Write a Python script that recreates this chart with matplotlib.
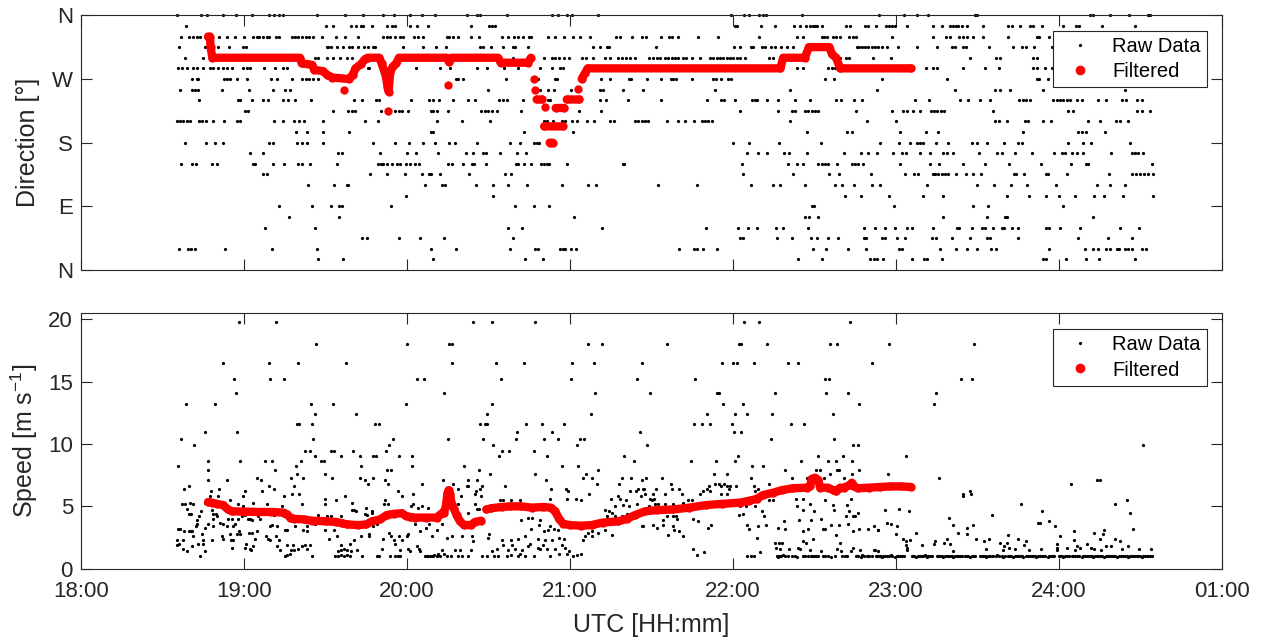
import numpy as np
import matplotlib
matplotlib.use("Agg")
import matplotlib.pyplot as plt
from matplotlib.lines import Line2D

OUT_PNG = "out.png"

# times are minutes after 18:00 UTC
# ---------------- raw direction, one list per 15 deg bin ----------------
raw_dir_360 = [35.1, 44.1, 46.4, 52.1, 56.9, 62.7, 69.3, 71.0, 73.0, 74.2, 86.7, 97.1, 103.9, 111.0, 115.2,
               121.1, 125.5, 130.1, 141.9, 145.8, 146.8, 156.9, 173.2, 175.7, 178.8, 180.7, 190.2, 239.2, 244.2,
               246.0, 249.7, 251.2, 252.2, 265.3, 293.9, 303.1, 307.7, 312.0, 329.2, 329.8, 371.5, 372.7, 378.9,
               386.0, 393.0, 393.6]
raw_dir_345 = [38.6, 90.1, 92.6, 99.2, 101.2, 102.9, 103.9, 106.9, 112.7, 114.4, 115.7, 121.1, 123.5, 127.7,
               143.5, 150.3, 151.3, 152.2, 240.8, 241.4, 250.3, 255.5, 262.5, 264.7, 266.9, 268.4, 269.4, 270.2,
               271.1, 273.0, 281.6, 283.1, 288.6, 289.9, 292.7, 296.4, 297.6, 298.5, 299.7, 304.2, 313.8, 316.9,
               320.0, 320.9, 322.2, 323.0, 324.2, 326.1, 332.2, 341.4, 342.7, 345.7, 349.4, 350.6, 353.7, 361.7,
               366.4, 367.6, 375.8, 388.1]
raw_dir_330 = [36.7, 39.8, 41.3, 42.5, 43.7, 50.8, 53.5, 56.6, 59.9, 63.4, 64.6, 65.6, 67.0, 68.3, 69.3, 71.7,
               73.0, 77.5, 78.7, 79.9, 81.2, 82.8, 84.0, 85.5, 88.5, 93.8, 97.1, 102.0, 111.0, 112.5, 113.7, 115.5,
               117.4, 118.4, 122.5, 124.1, 125.7, 134.6, 135.5, 136.8, 138.9, 143.4, 146.6, 154.9, 157.3, 159.4,
               161.0, 162.6, 165.0, 165.6, 171.9, 174.5, 177.8, 181.2, 183.7, 187.4, 196.9, 198.4, 202.7, 206.4,
               208.0, 213.4, 216.6, 217.4, 219.9, 227.3, 234.6, 249.7, 263.5, 265.9, 272.7, 273.5, 274.5, 277.0,
               278.0, 279.4, 282.9, 284.1, 285.3, 298.5, 313.8, 318.5, 320.0, 323.4, 324.9, 326.1, 328.3, 332.0,
               341.4, 351.9, 352.9, 356.5]
raw_dir_315 = [36.0, 45.6, 50.5, 54.5, 59.4, 60.7, 90.4, 91.0, 91.8, 94.1, 96.5, 98.7, 99.6, 102.0, 104.1,
               105.7, 107.3, 108.2, 118.4, 126.0, 130.6, 134.3, 146.8, 147.8, 150.8, 155.4, 159.1, 159.7, 164.6,
               188.3, 191.0, 193.7, 194.5, 211.7, 240.4, 242.8, 246.5, 247.5, 250.6, 251.8, 253.9, 255.5, 257.9,
               259.8, 262.0, 285.6, 286.5, 287.5, 288.6, 289.9, 291.1, 292.3, 293.5, 294.8, 296.9, 300.9, 307.9,
               315.3, 320.6, 321.8, 324.9, 325.8, 334.4, 343.0, 346.3, 347.9, 351.0, 357.4]
raw_dir_300 = [38.2, 44.9, 86.1, 87.3, 90.4, 92.8, 95.3, 98.0, 99.6, 159.1, 170.4, 173.2, 174.5, 176.1, 177.8,
               179.5, 184.4, 185.9, 188.3, 192.9, 194.7, 197.8, 199.0, 200.6, 202.1, 203.9, 209.2, 210.7, 211.9,
               213.1, 215.0, 216.2, 217.4, 218.7, 219.9, 221.7, 222.9, 224.8, 227.9, 231.5, 232.8, 234.0, 235.2,
               236.5, 237.7, 238.9, 240.1, 241.6, 242.8, 244.4, 253.4, 254.6, 279.4, 281.6, 282.9, 291.7, 298.1,
               327.3, 336.9, 338.4, 350.4, 352.1]
raw_dir_285 = [35.5, 37.0, 38.8, 41.0, 42.5, 44.7, 47.4, 48.6, 50.5, 52.1, 53.5, 55.4, 59.7, 60.9, 62.1, 67.4,
               71.3, 74.2, 75.6, 105.7, 106.1, 123.3, 132.1, 135.8, 145.6, 149.5, 155.7, 161.0, 168.9, 173.2,
               176.3, 177.3, 263.5, 265.9, 275.1, 276.4, 277.6, 311.1, 313.8, 315.0, 324.6, 332.8, 338.1, 350.6,
               352.1, 354.9, 357.4]
raw_dir_270 = [40.7, 42.5, 43.1, 52.7, 53.5, 54.8, 57.2, 60.9, 69.7, 72.2, 77.5, 81.2, 82.8, 84.0, 85.5, 87.3,
               138.0, 138.9, 140.5, 156.4, 168.3, 174.5, 175.3, 191.6, 194.8, 201.8, 202.3, 208.5, 213.7, 217.1,
               217.8, 219.0, 224.9, 232.8, 233.8, 235.5, 238.3, 239.2, 273.9, 277.2, 294.8, 318.7, 351.9, 352.9,
               356.2]
raw_dir_255 = [36.4, 40.7, 41.9, 43.1, 51.7, 61.9, 70.7, 75.0, 76.9, 149.9, 168.9, 172.0, 174.1, 180.2, 191.0,
               192.3, 199.4, 206.8, 233.4, 261.0, 293.2, 321.8, 336.5, 338.4, 342.0, 354.1, 384.4]
raw_dir_240 = [43.5, 57.6, 58.5, 63.0, 67.0, 68.9, 74.4, 76.3, 78.7, 84.6, 100.4, 103.3, 108.5, 109.6, 121.4,
               128.2, 129.4, 131.9, 136.8, 142.5, 145.0, 154.0, 155.4, 156.9, 162.8, 172.0, 172.6, 191.0, 193.2,
               201.5, 213.7, 230.3, 235.8, 236.7, 240.8, 246.9, 248.1, 249.0, 252.4, 256.5, 262.9, 268.4, 278.0,
               279.7, 284.6, 287.4, 307.1, 312.3, 323.6, 326.7, 331.0, 334.7, 345.5, 346.7, 347.9, 349.4, 358.0,
               359.2, 360.5, 361.7, 362.9, 364.1, 366.6, 368.4, 374.6, 377.4, 383.2, 384.8, 389.0, 390.5]
raw_dir_225 = [60.3, 61.5, 92.6, 98.4, 99.6, 100.8, 110.3, 115.5, 117.1, 118.0, 120.4, 128.7, 129.6, 130.9,
               135.2, 147.4, 148.7, 149.9, 151.1, 153.2, 161.8, 183.4, 191.6, 242.6, 256.7, 261.6, 262.9, 266.5,
               267.8, 269.0, 270.2, 271.5, 285.3, 298.5, 302.8, 304.0, 306.2, 308.9, 312.8, 314.1, 315.3, 316.5,
               317.7, 335.9, 363.5, 365.1, 388.7, 390.5, 393.6]
raw_dir_210 = [35.1, 36.4, 37.6, 38.8, 40.0, 43.4, 44.6, 45.8, 48.4, 52.6, 57.2, 58.5, 71.0, 74.4, 78.3, 80.3,
               82.0, 89.1, 104.5, 109.4, 131.1, 140.1, 150.5, 170.4, 171.4, 173.8, 176.9, 178.1, 180.6, 182.4,
               186.1, 188.8, 194.7, 196.2, 203.9, 205.2, 206.4, 207.6, 208.8, 215.6, 219.9, 222.3, 225.7, 228.5,
               229.7, 230.9, 232.2, 261.0, 289.3, 300.1, 336.5, 338.1, 340.8, 347.6, 348.8, 354.3, 357.0, 370.9,
               375.2, 381.1, 382.6, 385.6]
raw_dir_195 = [79.1, 83.0, 88.9, 98.7, 128.7, 129.6, 163.0, 181.2, 267.4, 281.9, 283.7, 301.5, 311.1, 315.7,
               346.7, 367.2, 368.4, 370.0, 377.0]
raw_dir_180 = [38.2, 45.9, 49.2, 52.1, 69.3, 70.5, 79.3, 81.2, 83.0, 89.1, 107.6, 115.5, 120.8, 126.0, 130.3,
               135.5, 137.6, 145.8, 157.9, 161.6, 166.7, 167.7, 168.7, 239.9, 246.0, 257.1, 272.3, 294.2, 301.0,
               305.2, 307.9, 308.9, 310.1, 314.8, 319.3, 327.9, 329.8, 333.5, 339.8, 345.1, 346.3, 363.5, 368.8,
               371.8, 386.2]
raw_dir_165 = [62.1, 66.8, 94.7, 95.9, 110.0, 120.1, 123.3, 131.5, 141.7, 144.1, 147.8, 149.0, 154.2, 160.6,
               163.8, 245.3, 249.3, 252.7, 258.8, 260.8, 267.4, 280.9, 287.2, 289.9, 292.9, 299.1, 302.1, 303.7,
               308.9, 312.6, 317.2, 318.7, 320.9, 330.7, 337.1, 339.0, 343.9, 350.0, 358.2, 361.1, 362.3, 364.8,
               366.6, 368.8, 379.1, 386.9, 388.1, 389.3, 391.2]
raw_dir_150 = [36.6, 40.7, 42.2, 48.0, 49.9, 63.4, 64.0, 70.5, 74.8, 79.9, 81.2, 84.2, 94.3, 109.4, 110.3,
               111.3, 112.5, 114.3, 116.2, 117.4, 119.6, 121.1, 122.9, 124.5, 135.2, 136.4, 140.5, 143.8, 144.6,
               149.0, 160.1, 161.0, 163.0, 165.5, 169.2, 170.4, 171.4, 172.4, 178.8, 199.4, 199.9, 243.2, 260.4,
               263.7, 265.7, 271.5, 272.7, 273.9, 275.1, 278.2, 283.7, 285.0, 286.2, 287.8, 301.5, 312.6, 316.0,
               324.6, 332.8, 341.8, 353.3, 364.4, 370.0, 370.9, 394.2]
raw_dir_135 = [67.0, 68.3, 106.3, 112.5, 119.2, 125.4, 128.2, 128.7, 132.1, 142.9, 156.0, 158.1, 243.8, 262.0,
               275.5, 279.2, 290.7, 303.4, 306.7, 308.3, 313.6, 314.4, 315.6, 316.9, 318.1, 319.3, 322.2, 325.8,
               328.3, 331.2, 343.5, 344.3, 347.2, 355.5, 356.2, 362.9, 378.6, 386.9, 388.5, 389.9, 391.4, 393.0,
               394.6]
raw_dir_120 = [83.6, 93.1, 97.7, 98.4, 126.6, 132.7, 133.9, 145.4, 151.5, 157.3, 164.0, 176.9, 186.7, 189.6,
               212.5, 226.9, 246.5, 254.6, 257.3, 266.5, 277.6, 280.0, 284.6, 291.1, 294.2, 311.6, 329.8, 336.2,
               342.3, 348.4, 359.0, 374.0, 378.9, 384.4]
raw_dir_105 = [119.6, 151.5, 281.3, 287.0, 297.6, 309.9, 317.2, 340.8, 349.2, 355.3, 360.2, 366.0, 373.0,
               376.7, 383.8, 394.8]
raw_dir_90 = [73.0, 84.8, 91.9, 95.0, 95.9, 113.9, 159.7, 166.7, 172.4, 269.0, 269.9, 299.3, 328.5, 334.1,
              361.4]
raw_dir_75 = [76.6, 95.0, 181.5, 266.5, 268.1, 271.5, 317.5, 333.7, 340.2, 340.8, 372.5]
raw_dir_60 = [67.7, 86.1, 157.3, 162.2, 191.9, 230.1, 241.7, 245.7, 248.7, 255.9, 258.3, 267.8, 288.3, 292.3,
              296.0, 299.7, 304.0, 305.8, 313.6, 322.4, 323.4, 327.9, 331.6, 332.8, 335.7, 339.0, 339.8, 342.7,
              345.1, 355.5, 356.5, 360.5, 367.8, 382.6, 389.7]
raw_dir_45 = [103.3, 105.1, 117.1, 124.7, 133.6, 158.9, 242.6, 243.8, 256.3, 261.6, 268.6, 271.1, 275.1, 278.8,
              288.3, 289.0, 294.8, 296.0, 300.3, 303.4, 313.2, 314.8, 320.6, 327.3, 333.5, 334.7, 345.1, 367.2,
              378.3, 386.9]
raw_dir_30 = [36.1, 39.4, 40.3, 41.9, 52.9, 70.1, 86.9, 128.7, 138.0, 157.9, 167.1, 168.3, 176.3, 177.3, 178.1,
              180.2, 182.2, 220.2, 225.7, 226.6, 229.1, 234.0, 269.4, 274.3, 282.5, 289.0, 301.3, 302.1, 316.3,
              322.2, 326.3, 329.8, 334.9, 336.9, 356.5, 369.7, 372.5, 374.6, 377.6, 378.9, 381.3, 382.3, 384.4,
              385.6, 386.9, 390.5, 392.1]
raw_dir_15 = [87.3, 96.3, 129.6, 163.4, 170.2, 264.1, 272.7, 290.5, 292.0, 293.2, 295.4, 305.8, 310.4, 311.4,
              316.9, 354.1, 355.5, 362.7, 370.0, 374.9, 388.1]

DIR_ROWS = [(360, raw_dir_360), (345, raw_dir_345), (330, raw_dir_330), (315, raw_dir_315),
            (300, raw_dir_300), (285, raw_dir_285), (270, raw_dir_270), (255, raw_dir_255),
            (240, raw_dir_240), (225, raw_dir_225), (210, raw_dir_210), (195, raw_dir_195),
            (180, raw_dir_180), (165, raw_dir_165), (150, raw_dir_150), (135, raw_dir_135),
            (120, raw_dir_120), (105, raw_dir_105), (90, raw_dir_90), (75, raw_dir_75),
            (60, raw_dir_60), (45, raw_dir_45), (30, raw_dir_30), (15, raw_dir_15)]

# filtered direction (None = gap in the trace)
filt_dir = [(46.7, 330), (47.4, 330), (47.6, 315), (48.3, 300), (80.5, 300), (81.2, 292), (85.0, 290),
            (85.8, 283), (89.0, 281), (90.5, 276), (92.5, 272), (98.5, 270), (100.0, 276), (101.0, 285),
            (103.0, 291), (104.5, 298), (105.5, 300), (109.8, 300), (110.6, 292), (111.5, 282), (112.3, 272),
            (112.8, 258), (113.2, 252), (113.8, 280), (114.8, 288), (116.0, 292), (117.0, 300), (134.5, 300),
            (135.5, 294), (136.4, 300), (153.5, 300), (154.5, 293), (164.5, 293), (165.6, 300), None,
            (166.8, 270), None, (167.1, 255), None, (167.7, 241), (169.7, 241), None, (170.8, 230), None,
            (174.7, 229), (177.9, 229), None, (170.5, 203), (177.3, 203), None, (172.5, 180), (173.6, 180), None,
            (178.8, 241), (183.4, 241), None, (183.0, 256), None, (184.3, 270), (185.5, 278), (186.5, 285),
            (257.5, 285), (258.5, 300), (266.5, 300), (268.0, 315), (275.5, 315), (276.5, 305), (278.0, 300),
            (279.5, 285), (305.6, 285), None, (96.9, 255), None, (112.9, 225), None, (135.2, 262)]

# ---------------- raw speed (minute, m/s) ----------------
raw_spd_a = [(58.2, 19.76), (71.7, 19.76), (86.5, 18.0), (119.9, 18.0), (52.3, 16.5), (69.3, 16.5), (79.7, 16.5),
             (97.4, 16.5), (56.4, 15.2), (69.5, 15.2), (74.5, 15.2), (57.0, 14.1), (38.6, 13.2), (49.3, 13.2),
             (84.5, 13.2), (92.6, 13.2), (119.5, 13.2), (85.9, 12.4), (101.2, 12.4), (79.5, 11.6), (80.1, 11.6),
             (84.8, 11.6), (108.2, 11.6), (109.7, 11.6), (36.9, 10.4), (45.7, 11.0), (57.3, 11.0), (85.4, 10.4),
             (114.7, 10.4), (41.7, 9.9), (113.4, 9.9), (82.3, 9.4), (84.3, 9.4), (92.0, 9.4), (93.1, 9.4),
             (100.0, 9.4), (112.3, 9.4), (86.2, 9.0), (95.8, 9.0), (102.7, 9.0), (107.6, 9.0), (108.6, 9.0),
             (117.2, 9.0), (35.6, 8.2), (46.5, 8.6), (46.8, 7.9), (58.5, 8.6), (67.8, 8.6), (70.2, 8.6),
             (79.1, 8.2), (80.8, 8.6), (88.3, 8.6), (89.4, 8.6), (102.9, 8.2), (71.4, 7.9), (79.4, 7.6),
             (89.6, 7.6), (112.5, 7.9), (114.0, 7.9), (46.5, 7.1), (53.8, 7.1), (64.8, 7.3), (66.1, 7.1),
             (77.3, 7.3), (81.6, 7.3), (92.5, 7.3), (102.5, 7.3), (107.4, 7.3), (104.5, 7.1), (105.5, 6.8),
             (111.9, 7.1), (112.8, 6.8), (37.9, 6.4), (39.7, 6.6), (47.9, 6.2), (50.9, 6.4), (69.0, 6.6),
             (71.0, 6.4), (78.5, 6.6), (60.2, 6.2), (59.5, 5.8), (47.4, 5.8), (50.5, 5.8), (66.6, 6.2),
             (80.1, 6.0), (74.7, 5.8), (77.5, 6.0), (97.3, 5.8), (116.7, 6.2), (118.3, 5.8), (89.6, 5.6),
             (93.9, 5.5), (99.7, 5.3), (112.0, 5.5), (37.1, 5.2), (38.3, 5.2), (39.9, 5.3), (41.1, 5.2),
             (45.5, 5.3), (52.6, 5.2), (54.6, 5.5), (57.9, 5.2), (59.7, 5.0), (63.4, 5.3), (68.3, 5.2),
             (73.8, 5.0), (81.3, 5.2), (89.9, 5.2), (105.0, 4.9), (106.9, 4.6), (111.4, 5.2), (112.9, 5.2),
             (38.8, 4.8), (39.5, 4.4), (40.4, 4.4), (44.0, 4.6), (48.1, 4.7), (48.4, 4.4), (49.6, 4.4),
             (49.9, 4.2), (48.7, 4.0), (51.1, 3.7), (52.3, 3.6), (54.2, 4.0), (55.4, 4.0), (56.6, 3.6),
             (57.9, 4.0), (59.1, 4.2), (60.3, 4.3), (61.3, 4.0), (62.2, 4.0), (63.0, 3.9), (65.2, 4.2),
             (65.9, 4.0), (70.8, 4.3), (72.4, 4.6), (73.2, 4.4), (74.7, 4.2), (43.4, 4.2), (42.8, 3.9),
             (42.5, 3.6), (42.3, 3.4), (35.8, 3.2), (36.3, 3.2), (38.0, 3.0), (39.5, 3.0), (40.7, 3.0),
             (45.6, 3.3), (46.5, 3.6), (48.7, 3.4), (53.6, 3.4), (55.8, 3.4), (58.1, 3.0), (58.6, 2.8),
             (54.6, 2.8), (61.7, 2.9), (62.8, 2.9), (69.5, 3.4), (70.3, 3.5), (72.0, 3.4), (75.1, 3.1),
             (75.9, 3.1), (78.8, 3.4), (81.8, 3.1), (83.3, 3.4), (83.0, 3.0), (86.2, 3.6), (87.2, 4.3),
             (88.0, 4.0), (90.4, 4.2), (91.9, 4.2), (95.6, 4.2), (99.6, 4.7), (100.4, 4.7), (101.2, 4.6),
             (104.5, 4.4), (105.2, 4.3), (107.0, 4.5), (110.3, 3.9), (112.3, 4.2), (35.4, 2.3), (36.0, 2.0),
             (35.2, 1.9), (37.6, 2.3), (40.3, 3.0), (41.3, 2.6), (42.9, 2.0), (44.4, 2.8), (44.9, 2.3),
             (45.0, 2.0), (48.3, 2.3), (52.0, 2.6), (52.3, 2.4), (55.0, 2.3), (56.0, 2.3), (55.5, 1.7),
             (57.5, 2.8), (60.7, 2.0), (62.4, 1.5), (63.2, 1.8), (64.0, 2.4), (64.6, 3.0), (67.9, 2.6),
             (68.7, 2.4), (69.5, 2.3), (71.7, 2.6), (72.2, 1.8), (72.7, 2.3), (73.2, 1.5), (75.6, 1.9),
             (77.3, 1.5), (77.9, 1.9), (81.2, 1.8), (82.4, 1.9), (84.2, 1.9), (83.0, 1.6), (85.0, 1.0),
             (89.9, 3.1), (91.2, 2.4), (93.0, 3.1), (94.1, 2.6), (95.7, 1.9), (96.7, 1.6), (95.6, 1.5),
             (94.7, 1.4), (97.8, 1.5), (99.0, 2.0), (100.6, 2.3), (101.7, 1.5), (102.9, 2.6), (105.9, 2.6),
             (106.1, 2.8), (107.6, 3.4), (108.8, 3.6), (110.7, 1.6), (111.0, 2.4), (113.3, 2.9), (113.9, 2.6),
             (115.0, 2.3), (115.5, 2.0), (117.2, 2.6), (117.4, 1.5), (118.3, 2.3), (37.4, 1.6), (39.0, 1.4),
             (40.8, 1.8), (43.8, 1.0), (45.7, 1.4), (60.3, 1.7), (62.2, 1.6), (75.1, 1.0), (75.9, 1.1),
             (76.8, 1.2), (78.4, 1.5), (79.7, 1.6), (93.6, 1.0), (94.7, 1.0), (95.8, 1.1), (96.7, 1.0),
             (97.8, 1.1), (99.0, 1.0), (99.5, 1.4), (103.5, 1.0), (109.1, 1.0), (109.7, 1.0), (113.7, 1.0),
             (115.5, 1.0), (116.6, 1.0), (117.4, 1.0)]

raw_spd_b = [(144.2, 19.8), (151.4, 19.8), (167.0, 19.8), (135.4, 18.0), (136.4, 18.0), (186.5, 18.0),
             (191.9, 18.0), (136.4, 16.5), (152.7, 16.5), (163.2, 16.5), (180.6, 16.5), (189.0, 16.5),
             (206.4, 16.5), (123.5, 15.2), (126.3, 15.2), (154.5, 15.2), (180.4, 15.2), (204.8, 15.2),
             (133.7, 14.1), (189.2, 14.1), (151.1, 13.2), (149.5, 12.4), (187.7, 12.4), (146.7, 11.6),
             (148.7, 11.6), (149.3, 11.6), (163.7, 11.6), (169.8, 11.6), (177.9, 11.6), (160.4, 11.0),
             (173.5, 11.0), (205.8, 11.0), (134.9, 10.4), (148.1, 10.4), (160.1, 10.4), (170.3, 10.4),
             (175.7, 10.4), (183.6, 10.4), (185.2, 10.4), (151.6, 9.9), (182.7, 9.9), (154.8, 9.4),
             (157.7, 9.4), (166.6, 9.4), (121.9, 9.0), (153.8, 9.0), (171.5, 9.0), (199.9, 9.0), (203.7, 8.6),
             (121.9, 8.2), (140.8, 8.2), (177.2, 8.2), (183.0, 8.2), (146.5, 7.9), (190.4, 7.9), (167.2, 7.6),
             (185.9, 7.6), (150.5, 7.6), (184.7, 7.3), (188.2, 7.3), (199.3, 7.3), (202.6, 7.3), (171.3, 7.1),
             (133.2, 7.1), (142.3, 7.1), (145.6, 7.1), (125.4, 6.8), (137.0, 6.8), (141.9, 6.6), (142.5, 6.6),
             (147.7, 6.6), (155.9, 6.6), (190.1, 6.8), (197.9, 6.8), (206.6, 7.1), (122.3, 6.0), (138.6, 6.4),
             (146.7, 6.4), (145.0, 6.0), (145.5, 6.2), (172.9, 6.4), (178.6, 6.4), (179.3, 6.2), (187.1, 6.0),
             (202.1, 6.2), (205.2, 6.4), (207.0, 6.4), (139.7, 5.8), (147.1, 5.8), (172.6, 5.6), (178.8, 5.6),
             (182.1, 5.6), (184.2, 5.5), (195.0, 5.6), (197.8, 5.8), (198.4, 5.6), (200.5, 5.5), (204.3, 6.2),
             (206.2, 5.8), (121.4, 5.0), (124.1, 4.9), (125.6, 5.0), (127.6, 4.9), (122.3, 5.2), (138.9, 5.2),
             (145.0, 5.2), (145.7, 4.8), (146.5, 4.8), (142.5, 4.5), (152.1, 5.0), (154.2, 5.5), (155.4, 5.5),
             (158.3, 5.5), (161.6, 5.5), (196.6, 5.0), (199.6, 5.1), (201.7, 5.0), (204.8, 5.2), (194.4, 4.6),
             (195.3, 4.5), (196.6, 4.2), (199.0, 4.2), (200.9, 4.4), (193.5, 4.2), (191.7, 3.7), (192.9, 4.7),
             (162.0, 3.9), (164.6, 4.1), (165.9, 4.1), (168.9, 3.9), (165.6, 3.2), (168.6, 3.5), (170.4, 3.0),
             (172.0, 3.1), (172.8, 3.4), (174.2, 3.2), (175.7, 3.1), (188.0, 3.0), (190.4, 2.9), (188.0, 2.6),
             (186.5, 2.9), (195.3, 2.7), (192.9, 3.1), (206.6, 3.4), (124.7, 3.0), (130.9, 3.1), (126.9, 3.3),
             (132.7, 3.6), (128.1, 3.6), (122.9, 3.6), (120.4, 2.8), (119.8, 2.6), (129.0, 2.6), (134.6, 2.5),
             (136.4, 2.6), (140.1, 2.6), (143.8, 2.6), (144.4, 2.2), (150.2, 2.8), (149.9, 2.5), (154.8, 2.3),
             (158.3, 2.3), (161.0, 2.4), (163.4, 2.6), (168.1, 2.4), (170.8, 2.3), (173.2, 2.3), (175.9, 2.5),
             (177.9, 2.4), (184.9, 2.3), (185.5, 2.6), (120.4, 1.6), (121.1, 1.4), (123.5, 1.8), (124.4, 1.6),
             (124.7, 1.4), (126.6, 1.0), (127.2, 1.0), (127.8, 1.0), (128.4, 1.0), (129.0, 1.0), (129.5, 1.05),
             (130.0, 1.1), (130.9, 1.0), (131.5, 1.2), (132.1, 1.0), (133.0, 1.5), (133.7, 1.2), (134.6, 1.0),
             (136.2, 1.0), (137.6, 1.5), (138.6, 1.0), (139.5, 1.5), (140.3, 1.0), (142.5, 1.0), (143.4, 1.5),
             (147.5, 1.0), (149.3, 1.0), (151.1, 1.4), (152.1, 1.0), (153.2, 1.6), (153.6, 1.0), (155.4, 1.9),
             (156.8, 1.0), (157.3, 1.5), (158.3, 1.1), (158.8, 1.9), (159.7, 1.6), (161.0, 1.0), (161.6, 1.2),
             (162.2, 1.5), (163.4, 1.0), (164.4, 1.8), (165.3, 2.0), (166.9, 1.0), (168.1, 1.7), (168.9, 1.6),
             (170.2, 1.9), (171.4, 1.6), (172.6, 1.0), (174.5, 1.6), (175.9, 1.2), (176.9, 1.9), (178.2, 1.7),
             (178.8, 1.2), (179.6, 1.4), (181.2, 1.0), (182.5, 1.1), (184.1, 1.2)]

raw_spd_c = [(244.2, 19.8), (249.6, 19.8), (283.2, 19.8), (215.6, 18.0), (242.4, 18.0), (243.0, 18.0),
             (252.5, 18.0), (275.6, 18.0), (278.5, 18.0), (235.9, 16.5), (239.9, 16.5), (241.4, 16.5),
             (247.6, 16.5), (260.2, 16.5), (264.1, 16.5), (291.4, 16.5), (226.1, 15.2), (274.0, 15.2),
             (275.3, 15.2), (209.5, 14.1), (234.0, 14.1), (234.7, 14.1), (255.4, 14.1), (274.2, 14.1),
             (282.3, 14.1), (236.5, 13.2), (243.9, 13.2), (286.6, 13.2), (230.6, 12.4), (240.8, 12.4),
             (245.3, 12.4), (254.4, 12.4), (277.0, 12.4), (225.7, 11.6), (228.6, 11.6), (231.7, 11.6),
             (239.7, 11.6), (261.3, 11.6), (266.2, 11.6), (240.4, 11.0), (242.9, 11.0), (253.9, 10.4),
             (277.1, 10.4), (208.5, 9.9), (284.1, 9.9), (285.9, 9.9), (241.9, 9.0), (240.9, 8.6), (280.5, 9.0),
             (224.6, 8.6), (233.6, 8.6), (265.0, 8.6), (271.3, 9.0), (274.9, 8.6), (278.0, 8.6), (283.8, 8.6),
             (246.9, 8.2), (251.2, 8.2), (259.3, 7.9), (270.6, 7.9), (272.1, 7.9), (278.3, 7.9), (279.1, 7.9),
             (286.4, 7.9), (233.1, 7.6), (237.7, 7.6), (275.8, 7.6), (283.8, 7.6), (208.0, 7.3), (213.8, 7.3),
             (246.7, 7.3), (261.8, 7.3), (267.2, 7.3), (273.7, 7.3), (281.0, 7.3), (217.2, 6.8), (231.3, 6.6),
             (233.4, 6.8), (235.0, 6.8), (236.9, 6.8), (235.6, 6.6), (237.7, 6.6), (238.9, 6.6), (241.2, 6.6),
             (253.4, 6.8), (247.6, 6.6), (207.3, 6.4), (211.7, 6.4), (217.5, 6.4), (220.3, 6.4), (230.4, 6.4),
             (231.6, 6.2), (238.7, 6.4), (248.3, 6.2), (249.4, 6.4), (207.6, 6.0), (210.7, 6.0), (209.5, 5.6),
             (210.1, 5.5), (211.0, 5.6), (215.0, 6.0), (221.2, 6.0), (227.9, 6.0), (229.1, 6.2), (235.6, 6.0),
             (238.0, 6.0), (253.4, 5.5), (254.9, 5.5), (263.3, 5.6), (266.0, 5.6), (274.0, 5.5), (283.5, 5.6),
             (211.3, 5.2), (212.3, 5.2), (215.0, 5.2), (218.1, 5.2), (221.8, 5.3), (223.6, 5.5), (224.8, 5.5),
             (208.3, 4.9), (209.2, 5.0), (216.6, 4.9), (218.7, 4.8), (219.9, 5.0), (232.6, 5.2), (234.7, 5.3),
             (242.6, 5.0), (244.8, 5.0), (248.2, 5.0), (268.4, 5.2), (263.5, 5.0), (269.7, 4.6), (276.8, 5.1),
             (277.3, 4.7), (281.9, 5.1), (281.7, 4.2), (282.9, 4.6), (284.4, 4.2), (285.0, 4.2), (285.9, 4.5),
             (266.0, 4.7), (214.2, 3.9), (215.9, 4.2), (218.1, 4.2), (219.3, 4.0), (219.1, 4.2), (210.7, 3.5),
             (206.8, 3.4), (212.2, 3.3), (214.4, 3.5), (216.2, 2.7), (218.1, 3.4), (218.4, 3.1), (220.3, 3.0),
             (221.8, 2.6), (225.2, 4.0), (227.3, 3.8), (231.0, 3.3), (231.8, 3.5), (242.4, 4.3), (243.9, 4.4),
             (245.3, 3.5), (246.1, 3.2), (249.4, 3.4), (250.7, 4.6), (251.5, 4.2), (252.2, 3.5), (248.8, 2.5),
             (256.5, 3.3), (258.9, 3.8), (259.3, 3.2), (264.5, 3.9), (265.7, 3.0), (267.6, 3.2), (268.8, 3.9),
             (269.4, 2.4), (272.4, 4.0), (273.1, 3.2), (274.0, 3.2), (276.2, 3.5), (278.0, 2.7), (279.2, 3.5),
             (279.6, 2.1), (282.5, 3.6), (284.4, 3.0), (286.6, 3.2), (289.7, 3.2), (291.8, 3.4), (293.6, 3.1),
             (225.4, 1.6), (226.9, 1.1), (229.5, 1.3), (245.1, 1.0), (246.7, 1.0), (247.9, 1.0), (249.8, 1.3),
             (255.5, 2.1), (256.8, 2.1), (258.0, 2.1), (257.4, 1.6), (255.9, 1.7), (256.1, 1.0), (257.1, 1.0),
             (258.4, 1.1), (259.3, 1.0), (260.8, 1.6), (261.7, 1.0), (262.9, 1.0), (264.1, 1.7), (264.7, 1.6),
             (265.7, 2.2), (267.0, 2.1), (266.6, 1.0), (267.8, 1.0), (269.0, 1.0), (269.9, 1.0), (268.4, 1.5),
             (272.5, 1.4), (273.1, 1.0), (275.2, 1.0), (278.5, 1.6), (279.8, 1.4), (280.1, 1.0), (281.3, 1.0),
             (283.4, 1.4), (284.4, 1.7), (285.4, 1.0), (286.8, 1.5), (287.5, 1.1), (288.3, 1.0), (289.3, 1.0),
             (290.3, 1.0), (291.1, 1.0), (292.1, 1.5), (293.2, 1.0), (294.0, 1.0), (256.5, 0.95), (257.8, 1.05),
             (260.2, 1.0), (263.5, 0.95), (266.0, 1.05), (268.9, 1.0), (270.5, 1.0), (271.2, 1.05), (274.0, 1.0),
             (276.0, 0.95), (277.5, 1.0), (282.0, 1.05), (286.0, 1.0), (287.0, 0.95), (289.8, 1.05), (292.6, 1.0)]

raw_spd_d = [(297.6, 18.0), (328.8, 18.0), (324.1, 15.2), (327.9, 15.2), (314.7, 14.1), (313.9, 13.2),
             (391.0, 9.9), (303.7, 9.0), (297.0, 7.6), (316.0, 7.3), (364.4, 6.8), (374.1, 7.1), (375.3, 7.1),
             (324.8, 6.0), (324.6, 5.8), (327.4, 6.2), (327.7, 6.0), (385.3, 5.5), (346.1, 5.2), (380.9, 5.2),
             (296.1, 4.7), (301.0, 4.8), (304.8, 4.6), (353.7, 4.6), (386.2, 4.5), (335.4, 4.3), (319.6, 4.1),
             (296.8, 3.7), (298.2, 3.6), (300.3, 3.4), (320.9, 3.5), (326.4, 3.3), (328.5, 3.5), (352.2, 3.7),
             (353.1, 3.7), (356.4, 3.8), (358.7, 3.4), (387.2, 3.2), (293.5, 3.1), (299.9, 2.8), (307.5, 2.9),
             (323.0, 2.9), (326.4, 2.8), (341.5, 2.7), (360.3, 2.6), (365.6, 3.0), (373.1, 2.9), (376.8, 3.1),
             (376.4, 2.8), (302.6, 2.4), (303.7, 2.2), (305.1, 2.3), (318.7, 2.4), (329.6, 2.4), (332.3, 2.2),
             (334.4, 2.4), (344.9, 2.4), (347.9, 2.2), (375.3, 2.4), (380.7, 2.4), (382.6, 2.2), (365.7, 2.3),
             (303.7, 1.9), (304.1, 1.7), (304.2, 1.5), (309.6, 1.9), (314.2, 2.0), (314.4, 2.2), (317.6, 2.1),
             (320.1, 2.0), (320.9, 1.4), (333.3, 1.6), (338.5, 2.1), (340.0, 1.8), (340.8, 2.1), (339.5, 1.5),
             (341.7, 1.7), (343.9, 1.6), (347.3, 1.9), (349.0, 1.5), (353.3, 1.6), (359.2, 2.0), (359.3, 1.7),
             (359.2, 1.5), (363.2, 1.7), (366.0, 1.5), (366.8, 1.8), (367.8, 1.7), (370.4, 2.0), (371.9, 1.7),
             (373.0, 1.6), (375.6, 1.5), (377.5, 1.8), (379.2, 1.8), (383.4, 1.6), (385.6, 1.8), (389.7, 1.6),
             (394.0, 1.6), (292.5, 1.5), (293.5, 1.4)]

# the dense 1 m/s band after 22:50
raw_spd_band = [(292.9, 1.0), (293.5, 1.05), (294.1, 1.0), (294.8, 0.95), (295.4, 1.0), (296.0, 1.05),
                (296.6, 1.0), (297.5, 1.0), (298.1, 1.1), (298.7, 1.0), (299.7, 0.95), (300.3, 1.0), (300.9, 1.0),
                (301.5, 1.05), (302.1, 1.0), (303.1, 1.0), (305.8, 1.0), (306.3, 1.05), (306.8, 1.0),
                (307.4, 0.95), (308.0, 1.0), (308.5, 1.0), (309.0, 1.05), (309.6, 1.0), (310.1, 1.0),
                (310.6, 1.1), (311.0, 1.0), (311.5, 0.95), (312.0, 1.0), (312.6, 1.0), (313.2, 1.05),
                (315.0, 1.0), (315.6, 1.0), (316.2, 1.05), (316.9, 1.0), (317.5, 0.95), (318.1, 1.0),
                (318.7, 1.0), (319.3, 1.05), (319.9, 1.0), (320.6, 1.0), (321.2, 0.95), (321.8, 1.0),
                (322.4, 1.05), (323.0, 1.0), (323.6, 1.0), (324.5, 1.0), (325.5, 1.05), (326.1, 1.0),
                (326.7, 1.0), (327.3, 0.95), (327.9, 1.0), (328.5, 1.0), (329.1, 1.05), (331.0, 1.0),
                (331.6, 1.05), (332.2, 1.0), (332.8, 1.0), (333.4, 0.95), (334.0, 1.0), (334.7, 1.05),
                (335.3, 1.0), (335.9, 1.0), (336.8, 1.0), (337.4, 1.1), (338.0, 1.0), (339.0, 1.0),
                (339.6, 0.95), (340.4, 1.0), (341.4, 1.05), (342.0, 1.0), (342.6, 1.0), (343.2, 0.95),
                (343.9, 1.0), (344.5, 1.05), (345.1, 1.0), (345.7, 1.0), (346.3, 1.0), (347.0, 0.95),
                (347.8, 1.0), (348.8, 1.05), (349.4, 1.0), (350.0, 1.0), (350.6, 1.05), (351.2, 1.0),
                (351.8, 0.95), (352.5, 1.0), (353.1, 1.0), (353.7, 1.05), (354.3, 1.0), (354.9, 1.0),
                (355.9, 0.95), (356.5, 1.0), (357.1, 1.05), (357.8, 1.0), (358.4, 1.0), (360.1, 1.0),
                (360.6, 1.05), (361.1, 1.0), (361.7, 0.95), (362.3, 1.0), (363.0, 1.0), (363.8, 1.05),
                (364.8, 1.0), (365.4, 1.0), (366.0, 1.05), (366.7, 1.0), (367.5, 1.0), (368.4, 0.95),
                (369.0, 1.0), (369.7, 1.05), (370.3, 1.0), (370.9, 1.0), (371.5, 1.05), (372.1, 1.0),
                (372.7, 0.95), (373.3, 1.0), (374.0, 1.0), (374.6, 1.05), (375.2, 1.0), (375.8, 1.0),
                (376.5, 0.95), (377.3, 1.0), (377.8, 1.05), (378.3, 1.0), (379.0, 1.0), (379.7, 1.0),
                (380.2, 1.05), (380.7, 1.0), (381.5, 0.95), (382.2, 1.0), (383.0, 1.0), (383.8, 1.05),
                (384.4, 1.0), (385.0, 1.0), (385.6, 0.95), (386.2, 1.0), (386.8, 1.05), (387.5, 1.0),
                (388.1, 1.0), (388.7, 1.05), (389.3, 1.0), (389.9, 1.0), (390.5, 0.95), (391.2, 1.0),
                (391.8, 1.05), (392.4, 1.0), (393.0, 1.0), (393.6, 1.05), (394.5, 1.0)]

# filtered speed (None = gap in the trace)
filt_spd = [(46.7, 5.35), (48.0, 5.3), (50.0, 5.2), (52.3, 5.1), (54.0, 4.75), (55.5, 4.6), (60.0, 4.58),
            (65.0, 4.55), (70.0, 4.55), (74.5, 4.5), (75.7, 4.35), (77.0, 4.1), (78.5, 4.0), (82.0, 3.95),
            (85.0, 3.85), (90.0, 3.8), (94.0, 3.75), (96.0, 3.65), (98.0, 3.55), (102.0, 3.5), (105.0, 3.55),
            (107.0, 3.8), (110.0, 3.95), (112.5, 4.3), (115.0, 4.4), (118.0, 4.45), (119.5, 4.25), (121.0, 4.15),
            (123.0, 4.1), (127.0, 4.1), (131.0, 4.1), (132.5, 4.4), (133.5, 4.5), (134.3, 5.0), (134.8, 6.0),
            (135.3, 6.3), (135.8, 6.0), (136.4, 5.2), (137.3, 4.8), (138.2, 4.3), (139.5, 3.8), (141.0, 3.5),
            (143.5, 3.5), (145.0, 3.75), (147.3, 3.85), None, (149.2, 4.75), (151.0, 4.85), (154.8, 4.95),
            (158.0, 5.0), (162.0, 5.0), (166.0, 4.9), (170.0, 4.95), (173.0, 4.9), (174.5, 4.6), (176.0, 4.0),
            (177.5, 3.6), (180.0, 3.5), (184.0, 3.45), (188.0, 3.5), (192.0, 3.7), (197.8, 3.8), (201.0, 4.0),
            (204.0, 4.3), (207.6, 4.6), (212.0, 4.7), (218.0, 4.75), (224.0, 4.9), (230.0, 5.1), (236.0, 5.2),
            (242.6, 5.3), (246.0, 5.45), (248.8, 5.6), (251.0, 5.9), (254.9, 6.1), (258.0, 6.3), (262.0, 6.45),
            (267.2, 6.5), (268.4, 6.6), (269.0, 7.2), (270.3, 7.3), (271.5, 7.1), (272.1, 6.5), (275.0, 6.5),
            (277.0, 6.3), (278.0, 6.2), (279.5, 6.5), (281.0, 6.5), (283.0, 6.7), (283.8, 6.9), (284.6, 6.6),
            (286.0, 6.45), (290.0, 6.5), (294.0, 6.55), (298.0, 6.6), (302.0, 6.6), (305.6, 6.55)]

X_TICKS = [18, 19, 20, 21, 22, 23, 24, 25]
X_TICK_LABELS = ["18:00", "19:00", "20:00", "21:00", "22:00", "23:00", "24:00", "01:00"]
DIR_TICKS = [0, 90, 180, 270, 360]
DIR_TICK_LABELS = ["N", "E", "S", "W", "N"]
SPD_TICKS = [0, 5, 10, 15, 20]

AX_COLOR = "#262626"
RAW_MS = 2.3
FILT_LW = 6.0


def to_hours(minutes):
    return 18 + np.asarray(minutes, dtype=float) / 60.0


def unpack(points):
    t = [np.nan if p is None else p[0] for p in points]
    v = [np.nan if p is None else p[1] for p in points]
    return to_hours(t), np.array(v, dtype=float)


def style_axes(ax):
    for s in ax.spines.values():
        s.set_color(AX_COLOR)
        s.set_linewidth(0.8)
    ax.tick_params(direction="in", length=7.9, width=0.8, top=True, right=True,
                   colors=AX_COLOR, labelsize=16)
    ax.tick_params(axis="x", pad=9)
    ax.tick_params(axis="y", pad=6)
    ax.set_xlim(18, 25)
    ax.set_xticks(X_TICKS)


def add_legend(ax):
    handles = [
        Line2D([0], [0], ls="none", marker="o", ms=RAW_MS, mfc="k", mec="none", label="Raw Data"),
        Line2D([0], [0], ls="none", marker="o", ms=7, mfc="red", mec="none", label="Filtered"),
    ]
    leg = ax.legend(handles=handles, loc="upper right", bbox_to_anchor=(0.987, 0.937),
                    borderaxespad=0, fontsize=14.5, frameon=True, fancybox=False,
                    edgecolor=AX_COLOR, framealpha=1, borderpad=0.3, labelspacing=0.3,
                    handlelength=2.1, handletextpad=0.55)
    leg.get_frame().set_linewidth(0.8)
    leg.set_zorder(10)


def main():
    plt.rcParams["font.family"] = ["Liberation Sans", "DejaVu Sans"]
    plt.rcParams["mathtext.fontset"] = "custom"
    plt.rcParams["mathtext.rm"] = "Liberation Sans"
    plt.rcParams["mathtext.default"] = "regular"

    fig = plt.figure(figsize=(12.62, 6.40), dpi=100)
    ax1 = fig.add_axes([0.0644, 0.5781, 0.9036, 0.398])
    ax2 = fig.add_axes([0.0644, 0.1114, 0.9036, 0.399])

    # ---- direction ----
    dir_t = []
    dir_v = []
    for level, times in DIR_ROWS:
        dir_t += times
        dir_v += [level] * len(times)
    ax1.plot(to_hours(dir_t), dir_v, ls="none", marker="o", ms=RAW_MS, mfc="k", mec="none",
             clip_on=False, zorder=2)
    ft, fv = unpack(filt_dir)
    ax1.plot(ft, fv, color="red", lw=FILT_LW, marker="o", ms=FILT_LW, mec="none",
             solid_capstyle="round", solid_joinstyle="round", zorder=3)

    style_axes(ax1)
    ax1.set_xticklabels([])
    ax1.set_ylim(0, 360)
    ax1.set_yticks(DIR_TICKS)
    ax1.set_yticklabels(DIR_TICK_LABELS)
    ax1.set_ylabel("Direction [°]", fontsize=18, color=AX_COLOR)
    ax1.yaxis.set_label_coords(-0.036, 0.5)
    add_legend(ax1)

    # ---- speed ----
    raw_all = raw_spd_a + raw_spd_b + raw_spd_c + raw_spd_d + raw_spd_band
    st, sv = unpack(raw_all)
    ax2.plot(st, sv, ls="none", marker="o", ms=RAW_MS, mfc="k", mec="none", zorder=2)
    ft, fv = unpack(filt_spd)
    ax2.plot(ft, fv, color="red", lw=FILT_LW, marker="o", ms=FILT_LW, mec="none",
             solid_capstyle="round", solid_joinstyle="round", zorder=3)

    style_axes(ax2)
    ax2.set_xticklabels(X_TICK_LABELS)
    ax2.set_ylim(0, 20.48)
    ax2.set_yticks(SPD_TICKS)
    ax2.set_ylabel(r"Speed [m s$^{-1}$]", fontsize=18, color=AX_COLOR)
    ax2.yaxis.set_label_coords(-0.036, 0.5)
    ax2.set_xlabel("UTC [HH:mm]", fontsize=18, color=AX_COLOR)
    ax2.xaxis.set_label_coords(0.5, -0.175)
    add_legend(ax2)

    fig.savefig(OUT_PNG, dpi=100)


if __name__ == "__main__":
    main()
